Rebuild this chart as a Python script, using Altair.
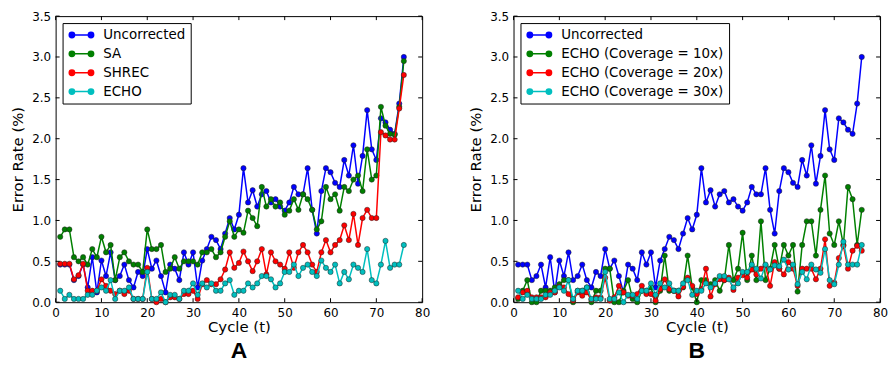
import altair as alt
import pandas as pd

cycles = list(range(1, 77))

uncorrected = [0.46, 0.46, 0.46, 0.27, 0.32, 0.46, 0.18, 0.55, 0.12, 0.51,
               0.32, 0.61, 0.27, 0.32, 0.46, 0.27, 0.18, 0.37, 0.32, 0.65,
               0.41, 0.51, 0.32, 0.12, 0.46, 0.41, 0.27, 0.61, 0.46, 0.61,
               0.18, 0.51, 0.65, 0.80, 0.76, 0.65, 0.84, 1.03, 0.89, 1.07,
               1.64, 1.22, 1.37, 1.17, 1.32, 1.36, 1.22, 1.26, 1.17, 1.12,
               1.22, 1.41, 1.32, 1.32, 1.64, 1.13, 0.84, 1.36, 1.64, 1.59,
               1.46, 1.41, 1.74, 1.55, 1.92, 1.45, 1.79, 2.35, 1.87, 1.74,
               2.25, 2.20, 2.11, 2.06, 2.43, 3.00]

sa = [0.80, 0.89, 0.89, 0.55, 0.50, 0.55, 0.46, 0.65, 0.55, 0.80,
      0.61, 0.70, 0.27, 0.55, 0.61, 0.50, 0.46, 0.46, 0.37, 0.89,
      0.65, 0.65, 0.70, 0.37, 0.41, 0.55, 0.41, 0.50, 0.50, 0.50,
      0.46, 0.61, 0.61, 0.65, 0.55, 0.61, 0.80, 0.99, 0.80, 0.89,
      0.85, 1.12, 1.03, 0.93, 1.41, 1.17, 1.26, 1.17, 1.22, 1.07,
      1.12, 1.26, 1.13, 1.32, 1.26, 1.13, 0.89, 0.99, 1.41, 1.26,
      1.32, 1.12, 1.41, 1.36, 1.50, 1.55, 1.36, 1.87, 1.50, 1.55,
      2.39, 2.16, 2.06, 2.05, 2.39, 2.95]

shrec = [0.47, 0.47, 0.47, 0.28, 0.33, 0.47, 0.14, 0.14, 0.14, 0.28,
         0.20, 0.14, 0.10, 0.14, 0.10, 0.14, 0.04, 0.04, 0.04, 0.42,
         0.04, 0.00, 0.04, 0.00, 0.06, 0.06, 0.04, 0.10, 0.10, 0.14,
         0.04, 0.22, 0.27, 0.22, 0.22, 0.28, 0.40, 0.61, 0.42, 0.48,
         0.62, 0.50, 0.38, 0.50, 0.65, 0.34, 0.61, 0.50, 0.46, 0.41,
         0.61, 0.42, 0.61, 0.70, 0.61, 0.46, 0.37, 0.61, 0.76, 0.61,
         0.70, 0.76, 0.94, 0.76, 1.08, 0.70, 1.03, 1.13, 1.03, 1.03,
         2.08, 2.04, 1.99, 1.99, 2.37, 2.78]

echo = [0.14, 0.04, 0.09, 0.04, 0.04, 0.04, 0.09, 0.09, 0.14, 0.18,
        0.14, 0.27, 0.04, 0.14, 0.14, 0.18, 0.04, 0.04, 0.04, 0.37,
        0.04, 0.04, 0.12, 0.00, 0.09, 0.09, 0.04, 0.14, 0.14, 0.23,
        0.09, 0.23, 0.18, 0.23, 0.14, 0.14, 0.23, 0.27, 0.09, 0.14,
        0.14, 0.23, 0.18, 0.23, 0.32, 0.32, 0.28, 0.18, 0.23, 0.37,
        0.37, 0.46, 0.32, 0.42, 0.46, 0.37, 0.32, 0.51, 0.42, 0.37,
        0.46, 0.23, 0.37, 0.28, 0.46, 0.42, 0.37, 0.65, 0.27, 0.23,
        0.46, 0.75, 0.42, 0.46, 0.46, 0.70]

echo10 = [0.04, 0.14, 0.27, 0.00, 0.00, 0.14, 0.14, 0.14, 0.18, 0.22,
          0.27, 0.27, 0.00, 0.14, 0.14, 0.18, 0.00, 0.14, 0.14, 0.41,
          0.41, 0.00, 0.00, 0.14, 0.27, 0.04, 0.00, 0.14, 0.14, 0.18,
          0.00, 0.14, 0.57, 0.14, 0.14, 0.14, 0.18, 0.57, 0.18, 0.00,
          0.27, 0.27, 0.22, 0.27, 0.14, 0.27, 0.70, 0.27, 0.41, 0.85,
          0.27, 0.57, 0.27, 0.99, 0.27, 0.41, 0.70, 0.41, 0.70, 0.57,
          0.70, 0.13, 0.70, 0.99, 0.99, 0.57, 1.13, 1.55, 0.84, 0.70,
          0.99, 0.70, 1.41, 1.26, 0.70, 1.13]

echo20 = [0.06, 0.12, 0.14, 0.06, 0.06, 0.06, 0.06, 0.12, 0.12, 0.19,
          0.18, 0.10, 0.02, 0.12, 0.08, 0.12, 0.03, 0.06, 0.06, 0.30,
          0.02, 0.06, 0.20, 0.12, 0.08, 0.08, 0.10, 0.20, 0.10, 0.10,
          0.02, 0.16, 0.28, 0.16, 0.14, 0.07, 0.19, 0.30, 0.20, 0.10,
          0.16, 0.41, 0.07, 0.22, 0.28, 0.27, 0.30, 0.15, 0.30, 0.33,
          0.30, 0.40, 0.34, 0.41, 0.45, 0.20, 0.49, 0.41, 0.34, 0.49,
          0.41, 0.20, 0.41, 0.41, 0.41, 0.28, 0.41, 0.77, 0.20, 0.24,
          0.54, 0.69, 0.41, 0.63, 0.69, 0.63]

echo30 = [0.14, 0.04, 0.09, 0.04, 0.04, 0.04, 0.09, 0.09, 0.14, 0.18,
          0.14, 0.27, 0.04, 0.14, 0.14, 0.18, 0.04, 0.04, 0.04, 0.37,
          0.04, 0.04, 0.12, 0.00, 0.09, 0.09, 0.04, 0.14, 0.14, 0.23,
          0.09, 0.23, 0.18, 0.23, 0.14, 0.14, 0.23, 0.27, 0.09, 0.14,
          0.14, 0.23, 0.18, 0.23, 0.32, 0.32, 0.28, 0.18, 0.23, 0.37,
          0.37, 0.46, 0.41, 0.29, 0.46, 0.40, 0.45, 0.44, 0.52, 0.40,
          0.46, 0.22, 0.37, 0.28, 0.46, 0.40, 0.36, 0.65, 0.27, 0.22,
          0.46, 0.74, 0.46, 0.46, 0.46, 0.70]

names_a = ["Uncorrected", "SA", "SHREC", "ECHO"]
names_b = ["Uncorrected", "ECHO (Coverage = 10x)", "ECHO (Coverage = 20x)",
           "ECHO (Coverage = 30x)"]
colors = ["#0000ff", "#008000", "#ff0000", "#00bfbf"]

x_ticks = [0, 10, 20, 30, 40, 50, 60, 70, 80]
y_ticks = [0.0, 0.5, 1.0, 1.5, 2.0, 2.5, 3.0, 3.5]

W, H = 369, 288
FONT = "DejaVu Sans"
TICK = 4

LEG_PATH = ("M-1.6,0L1.6,0"
            "M-1.15,0A0.45,0.45 0 1,1 -2.05,0A0.45,0.45 0 1,1 -1.15,0Z"
            "M2.05,0A0.45,0.45 0 1,1 1.15,0A0.45,0.45 0 1,1 2.05,0Z")


def panel(names, series, letter):
    x_scale = alt.Scale(domain=[0, 80], nice=False, zero=False)
    y_scale = alt.Scale(domain=[0, 3.5], nice=False, zero=False)
    c_scale = alt.Scale(domain=names, range=colors)
    x_axis = alt.Axis(values=x_ticks, format="d", title="Cycle (t)", ticks=False,
                      domain=False, grid=False, labelPadding=5, titlePadding=2,
                      labelFlush=False, labelOverlap=False,
                      titleFontWeight="normal")
    y_axis = alt.Axis(values=y_ticks, format=".1f", title="Error Rate (%)",
                      ticks=False, domain=False, grid=False, labelPadding=5,
                      titlePadding=6, labelOverlap=False, labelFlush=False,
                      titleFontWeight="normal")
    legend = alt.Legend(title=None, orient="top-left", offset=7,
                        symbolType=LEG_PATH, symbolSize=144,
                        symbolStrokeWidth=1.5, symbolOffset=7,
                        labelFontSize=13.5, labelFont=FONT,
                        labelColor="black", strokeColor="black",
                        fillColor="white", padding=5, rowPadding=5,
                        labelLimit=400, cornerRadius=0, labelOffset=15)
    layers = []
    for name, vals in zip(names, series):
        d = pd.DataFrame({"t": cycles, "v": vals, "s": name})
        base = alt.Chart(d).encode(
            x=alt.X("t:Q", scale=x_scale, axis=x_axis),
            y=alt.Y("v:Q", scale=y_scale, axis=y_axis),
            color=alt.Color("s:N", scale=c_scale, legend=legend),
        )
        layers.append(base.mark_line(strokeWidth=1.5))
        layers.append(base.mark_circle(size=28, opacity=1, stroke="#222",
                                       strokeWidth=0.5))
    xt = pd.DataFrame({"xt": x_ticks})
    yt = pd.DataFrame({"yt": y_ticks})
    layers.append(alt.Chart(xt).mark_rule(color="black").encode(
        x=alt.X("xt:Q", scale=x_scale, axis=x_axis),
        y=alt.value(H), y2=alt.value(H - TICK)))
    layers.append(alt.Chart(xt).mark_rule(color="black").encode(
        x=alt.X("xt:Q", scale=x_scale, axis=x_axis),
        y=alt.value(0), y2=alt.value(TICK)))
    layers.append(alt.Chart(yt).mark_rule(color="black").encode(
        y=alt.Y("yt:Q", scale=y_scale, axis=y_axis),
        x=alt.value(0), x2=alt.value(TICK)))
    layers.append(alt.Chart(yt).mark_rule(color="black").encode(
        y=alt.Y("yt:Q", scale=y_scale, axis=y_axis),
        x=alt.value(W), x2=alt.value(W - TICK)))
    return alt.layer(*layers).properties(
        width=W, height=H,
        title=alt.TitleParams(letter, orient="bottom", anchor="middle",
                              fontSize=23, fontWeight="bold",
                              font="Liberation Sans", offset=5, color="black"))


a = panel(names_a, [uncorrected, sa, shrec, echo], "A")
b = panel(names_b, [uncorrected, echo10, echo20, echo30], "B")

chart = alt.hconcat(a, b, spacing=92, bounds="flush").resolve_scale(
    color="independent", x="independent", y="independent"
).resolve_legend(color="independent").properties(
    padding={"left": 10, "top": 8, "right": 0, "bottom": 0}
).configure(font=FONT).configure_view(
    stroke="black", strokeWidth=1
).configure_axis(
    labelFont=FONT, titleFont=FONT, labelFontSize=12, titleFontSize=15,
    titleFontWeight="normal", labelColor="black", titleColor="black"
)

chart.save("out.html", embed_options={"renderer": "svg", "actions": False})
